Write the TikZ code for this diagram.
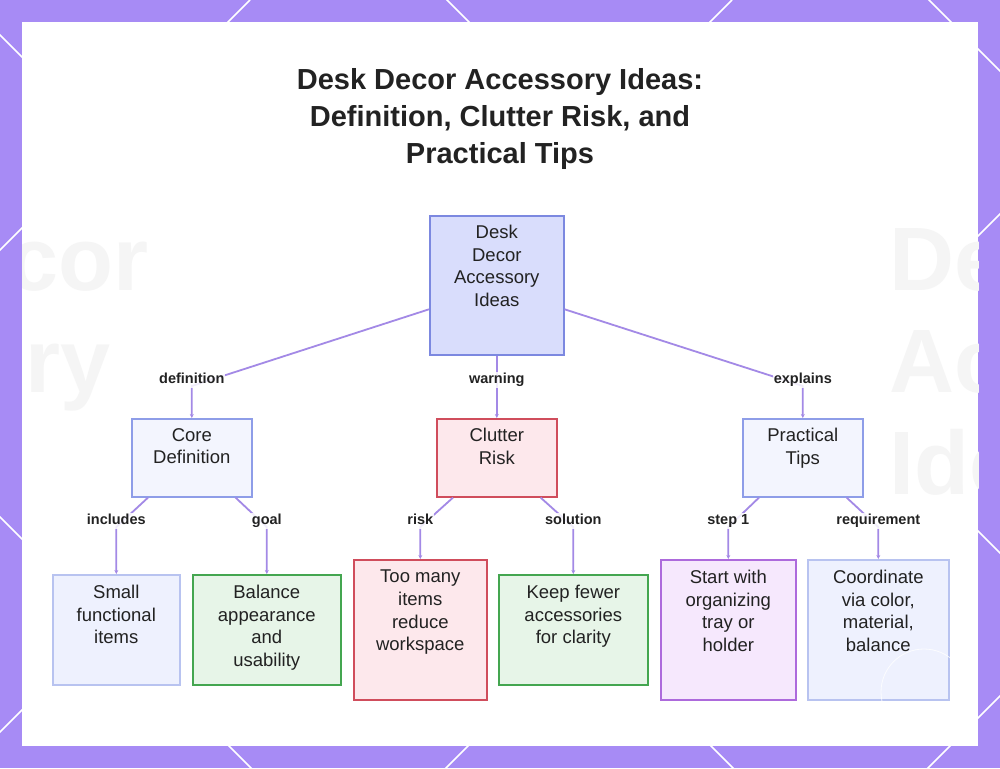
\documentclass[tikz,border=0pt]{standalone}
\usepackage{fontspec}
\setmainfont{Liberation Sans}
\usetikzlibrary{arrows.meta,calc}
\definecolor{bordc}{HTML}{A78BF5}
\definecolor{connc}{HTML}{A389E6}
\definecolor{txt}{HTML}{222222}
\definecolor{rootf}{HTML}{D9DDFC}\definecolor{rootb}{HTML}{7C88E0}
\definecolor{bluef}{HTML}{F3F5FE}\definecolor{blueb}{HTML}{8E9DE8}
\definecolor{redf}{HTML}{FDE8EC}\definecolor{redb}{HTML}{D04D5C}
\definecolor{greenf}{HTML}{E7F5E8}\definecolor{greenb}{HTML}{44A650}
\definecolor{purf}{HTML}{F6E8FD}\definecolor{purb}{HTML}{AD6ADC}
\definecolor{lbf}{HTML}{EEF1FE}\definecolor{lbb}{HTML}{B8C3F0}
\tikzset{
  boxbase/.style={draw, line width=1.6pt, anchor=north west, inner sep=0pt},
  rootbox/.style={boxbase, draw=rootb, fill=rootf},
  bluebox/.style={boxbase, draw=blueb, fill=bluef},
  redbox/.style={boxbase, draw=redb, fill=redf},
  greenbox/.style={boxbase, draw=greenb, fill=greenf},
  purbox/.style={boxbase, draw=purb, fill=purf},
  lbbox/.style={boxbase, draw=lbb, fill=lbf},
  btxt/.style={anchor=north, align=center, inner sep=0pt, text=txt, font=\fontsize{18.5}{22.6}\selectfont},
  conn/.style={draw=connc, line width=1.8pt, -{Stealth[length=4pt,width=4pt]}},
  lbl/.style={font=\bfseries\fontsize{14.5}{16}\selectfont, text=txt, fill=white, fill opacity=0.85, text opacity=1, inner sep=1pt, text height=10.5pt, text depth=3pt, yshift=6pt},
  ghost/.style={font=\bfseries\fontsize{90}{100}\selectfont, text=black!4},
  deco/.style={draw=white, line width=1.5pt}
}
\begin{document}
\begin{tikzpicture}[x=1pt,y=-1pt]
\useasboundingbox (0,0) rectangle (1000,768);
% frame
\fill[bordc] (0,0) rectangle (1000,768);
\foreach \k in {250,732,1214,1696} { \draw[deco] (\k,0) -- (\k-800,800); }
\foreach \k in {-929,-447,35,517} { \draw[deco] (-200,\k-200) -- (1200,\k+1200); }
\fill[white] (22,22) rectangle (978,746);
% ghost background text
\begin{scope}
\clip (22,22) rectangle (978,746);
\node[ghost, anchor=base east] (g1) at (152,290) {Decor};
\node[ghost, anchor=base east] (g2) at (114,392) {Accessory};
\node[ghost, anchor=base west] (g3) at (886,290) {Decor};
\node[ghost, anchor=base west] (g4) at (886,392) {Accessory};
\node[ghost, anchor=base west] (g5) at (886,494) {Ideas};
\end{scope}
% title
\node[align=center, text=txt, font=\bfseries\fontsize{29}{37}\selectfont] (title) at (500,119)
  {Desk Decor Accessory Ideas:\\Definition, Clutter Risk, and\\Practical Tips};
% boxes
\node[rootbox, minimum width=134pt, minimum height=139pt] (root) at (429,215) {};
\node[bluebox, minimum width=120pt, minimum height=78pt] (core) at (131,418) {};
\node[redbox, minimum width=120pt, minimum height=78pt] (clutter) at (436,418) {};
\node[bluebox, minimum width=120pt, minimum height=78pt] (tips) at (742,418) {};
\node[lbbox, minimum width=127pt, minimum height=110pt] (small) at (52,574) {};
\node[greenbox, minimum width=148pt, minimum height=110pt] (balance) at (192,574) {};
\node[redbox, minimum width=133pt, minimum height=140pt] (many) at (353,559) {};
\node[greenbox, minimum width=149pt, minimum height=110pt] (fewer) at (498,574) {};
\node[purbox, minimum width=135pt, minimum height=140pt] (start) at (660,559) {};
\node[lbbox, minimum width=141pt, minimum height=140pt] (coord) at (807,559) {};
% texts
\node[btxt] (root-t) at ([yshift=-10pt]root.north) {Desk\\Decor\\Accessory\\Ideas};
\node[btxt] (core-t) at ([yshift=-10pt]core.north) {Core\\Definition};
\node[btxt] (clutter-t) at ([yshift=-10pt]clutter.north) {Clutter\\Risk};
\node[btxt] (tips-t) at ([yshift=-10pt]tips.north) {Practical\\Tips};
\node[btxt] (small-t) at ([yshift=-11pt]small.north) {Small\\functional\\items};
\node[btxt] (balance-t) at ([yshift=-11pt]balance.north) {Balance\\appearance\\and\\usability};
\node[btxt] (many-t) at ([yshift=-11pt]many.north) {Too many\\items\\reduce\\workspace};
\node[btxt] (fewer-t) at ([yshift=-11pt]fewer.north) {Keep fewer\\accessories\\for clarity};
\node[btxt] (start-t) at ([yshift=-11pt]start.north) {Start with\\organizing\\tray or\\holder};
\node[btxt] (coord-t) at ([yshift=-11pt]coord.north) {Coordinate\\via color,\\material,\\balance};
% connectors level 1
\draw[conn] ([yshift=-24pt]root.west) -- ([yshift=32pt]core.north) node[lbl] (l-def) {definition} -- (core.north);
\draw[conn] (root.south) -- ([yshift=32pt]clutter.north) node[lbl] (l-warn) {warning} -- (clutter.north);
\draw[conn] ([yshift=-24pt]root.east) -- ([yshift=32pt]tips.north) node[lbl] (l-exp) {explains} -- (tips.north);
% connectors level 2
\draw[conn] ([xshift=17pt]core.south west) -- ([yshift=47pt]small.north) node[lbl] (l-inc) {includes} -- (small.north);
\draw[conn] ([xshift=-17pt]core.south east) -- ([yshift=47pt]balance.north) node[lbl] (l-goal) {goal} -- (balance.north);
\draw[conn] ([xshift=17pt]clutter.south west) -- ([yshift=32pt]many.north) node[lbl] (l-risk) {risk} -- (many.north);
\draw[conn] ([xshift=-17pt]clutter.south east) -- ([yshift=47pt]fewer.north) node[lbl] (l-sol) {solution} -- (fewer.north);
\draw[conn] ([xshift=17pt]tips.south west) -- ([yshift=32pt]start.north) node[lbl] (l-step) {step 1} -- (start.north);
\draw[conn] ([xshift=-17pt]tips.south east) -- ([yshift=32pt]coord.north) node[lbl] (l-req) {requirement} -- (coord.north);
% watermark circle
\draw[white, line width=0.8pt, opacity=0.8] (924,692) circle (43pt);
\end{tikzpicture}
\end{document}
